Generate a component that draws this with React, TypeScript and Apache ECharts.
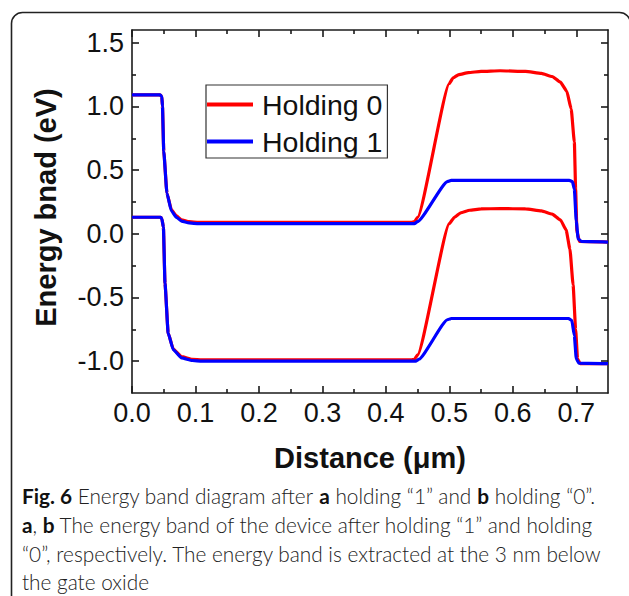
import React, { useEffect, useRef } from "react";
import * as echarts from "echarts";

const X_MIN = 0;
const X_MAX = 0.75;
const Y_MIN = -1.25;
const Y_MAX = 1.6;

const xTickValues = [0, 0.1, 0.2, 0.3, 0.4, 0.5, 0.6, 0.7];
const xMinorValues = [0.05, 0.15, 0.25, 0.35, 0.45, 0.55, 0.65];
const yTickValues = [-1, -0.5, 0, 0.5, 1, 1.5];
const yMinorValues = [-0.75, -0.25, 0.25, 0.75, 1.25];

const seriesNames = ["Holding 0", "Holding 1"];

// Holding 0 (red) – upper band
const h0UpperX = [0, 0.044, 0.047, 0.048, 0.05, 0.055, 0.062, 0.07, 0.078, 0.09, 0.105, 0.2, 0.3, 0.44, 0.445, 0.45, 0.5, 0.506, 0.515, 0.53, 0.55, 0.58, 0.62, 0.645, 0.662, 0.675, 0.685, 0.692, 0.697, 0.699, 0.701, 0.705, 0.75];
const h0UpperY = [1.09, 1.09, 1.08, 1.0, 0.65, 0.32, 0.19, 0.14, 0.11, 0.095, 0.09, 0.09, 0.09, 0.09, 0.095, 0.13, 1.18, 1.225, 1.25, 1.265, 1.275, 1.28, 1.275, 1.26, 1.235, 1.19, 1.12, 0.98, 0.72, 0.35, 0.02, -0.06, -0.065];

// Holding 0 (red) – lower band
const h0LowerX = [0, 0.045, 0.047, 0.0495, 0.052, 0.057, 0.065, 0.078, 0.095, 0.11, 0.2, 0.3, 0.44, 0.445, 0.45, 0.5, 0.508, 0.518, 0.532, 0.55, 0.58, 0.62, 0.645, 0.662, 0.675, 0.684, 0.69, 0.695, 0.699, 0.702, 0.706, 0.75];
const h0LowerY = [0.13, 0.13, 0.12, 0.05, -0.39, -0.78, -0.905, -0.965, -0.985, -0.99, -0.99, -0.99, -0.99, -0.985, -0.95, 0.08, 0.13, 0.165, 0.185, 0.195, 0.198, 0.195, 0.18, 0.155, 0.11, 0.03, -0.12, -0.4, -0.75, -0.98, -1.02, -1.02];

// Holding 1 (blue) – upper band
const h1UpperX = [0, 0.044, 0.047, 0.048, 0.05, 0.055, 0.062, 0.07, 0.078, 0.09, 0.105, 0.2, 0.3, 0.445, 0.45, 0.497, 0.503, 0.6, 0.689, 0.694, 0.697, 0.7, 0.703, 0.708, 0.75];
const h1UpperY = [1.09, 1.09, 1.08, 1.0, 0.65, 0.32, 0.18, 0.13, 0.1, 0.085, 0.08, 0.08, 0.08, 0.08, 0.095, 0.41, 0.42, 0.42, 0.42, 0.41, 0.35, 0.1, -0.04, -0.06, -0.065];

// Holding 1 (blue) – lower band
const h1LowerX = [0, 0.045, 0.047, 0.0495, 0.052, 0.057, 0.065, 0.078, 0.095, 0.11, 0.2, 0.3, 0.447, 0.452, 0.497, 0.503, 0.6, 0.688, 0.693, 0.697, 0.7, 0.704, 0.75];
const h1LowerY = [0.13, 0.13, 0.12, 0.05, -0.39, -0.78, -0.91, -0.975, -0.995, -1.0, -1.0, -1.0, -1.0, -0.985, -0.675, -0.665, -0.665, -0.665, -0.68, -0.8, -0.98, -1.015, -1.02];

const captionLines = [
  "{b|Fig. 6} Energy band diagram after {b|a} holding “1” and {b|b} holding “0”.",
  "{b|a}, {b|b} The energy band of the device after holding “1” and holding",
  "“0”, respectively. The energy band is extracted at the 3 nm below",
  "the gate oxide",
];

const RED = "#ff0000";
const BLUE = "#0000ff";
const AXIS_FONT = "Liberation Sans, Arial, sans-serif";
const CAPTION_FONT = "Lato, sans-serif";
const CAPTION_SIZE = 20.8;

function zip(xs: number[], ys: number[]) {
  return xs.map((x, i) => [x, ys[i]]);
}

function xAxisDef(position: "top" | "bottom", major: boolean, withLabels: boolean, withName: boolean) {
  return {
    type: "value",
    position,
    min: X_MIN,
    max: X_MAX,
    splitLine: { show: false },
    axisLine: { show: major, onZero: false, lineStyle: { color: "#1a1a1a", width: 1.6 } },
    axisTick: {
      show: true,
      inside: true,
      length: major ? 7 : 4,
      lineStyle: { color: "#1a1a1a", width: 1.6 },
      customValues: major ? xTickValues : xMinorValues,
    },
    axisLabel: withLabels
      ? {
          show: true,
          customValues: xTickValues,
          formatter: (v: number) => v.toFixed(1),
          fontSize: 27,
          fontFamily: AXIS_FONT,
          color: "#111",
          margin: 6,
        }
      : { show: false },
    name: withName ? "Distance (μm)" : "",
    nameLocation: "middle",
    nameGap: 50,
    nameTextStyle: { fontSize: 29, fontWeight: "bold", fontFamily: AXIS_FONT, color: "#111" },
  };
}

function yAxisDef(position: "left" | "right", major: boolean, withLabels: boolean, withName: boolean) {
  return {
    type: "value",
    position,
    min: Y_MIN,
    max: Y_MAX,
    splitLine: { show: false },
    axisLine: { show: major, onZero: false, lineStyle: { color: "#1a1a1a", width: 1.6 } },
    axisTick: {
      show: true,
      inside: true,
      length: major ? 7 : 4,
      lineStyle: { color: "#1a1a1a", width: 1.6 },
      customValues: major ? yTickValues : yMinorValues,
    },
    axisLabel: withLabels
      ? {
          show: true,
          customValues: yTickValues,
          formatter: (v: number) => v.toFixed(1),
          fontSize: 27,
          fontFamily: AXIS_FONT,
          color: "#111",
          margin: 8,
        }
      : { show: false },
    name: withName ? "Energy bnad (eV)" : "",
    nameLocation: "middle",
    nameGap: 72,
    nameTextStyle: { fontSize: 29, fontWeight: "bold", fontFamily: AXIS_FONT, color: "#111", padding: [0, 0, 0, 8] },
  };
}

function lineSeries(name: string, color: string, xs: number[], ys: number[]) {
  return {
    type: "line",
    name,
    data: zip(xs, ys),
    xAxisIndex: 0,
    yAxisIndex: 0,
    symbol: "none",
    smooth: 0.15,
    smoothMonotone: "x",
    lineStyle: { color, width: 3.2 },
    itemStyle: { color },
  };
}

export default function App() {
  const ref = useRef<HTMLDivElement>(null);

  useEffect(() => {
    document.body.style.margin = "0";
    if (!ref.current) return;
    const chart = echarts.init(ref.current, undefined, { renderer: "svg" });

    const captionGraphics = captionLines.map((line, i) => ({
      type: "text",
      left: 22,
      top: 485 + i * 28.8,
      style: {
        text: line,
        fill: "#222",
        fontSize: CAPTION_SIZE,
        fontWeight: 300,
        fontFamily: CAPTION_FONT,
        rich: { b: { fontWeight: "bold", fontSize: CAPTION_SIZE, fontFamily: CAPTION_FONT, fill: "#111" } },
      },
    }));

    chart.setOption({
      animation: false,
      backgroundColor: "#ffffff",
      grid: { left: 132, right: 21, top: 30, bottom: 203, containLabel: false },
      xAxis: [
        xAxisDef("bottom", true, true, true),
        xAxisDef("bottom", false, false, false),
        xAxisDef("top", true, false, false),
        xAxisDef("top", false, false, false),
      ],
      yAxis: [
        yAxisDef("left", true, true, true),
        yAxisDef("left", false, false, false),
        yAxisDef("right", true, false, false),
        yAxisDef("right", false, false, false),
      ],
      legend: {
        data: seriesNames,
        orient: "vertical",
        left: 206,
        top: 85,
        padding: [5, 5, 2, 1],
        itemGap: 8,
        itemWidth: 46,
        itemHeight: 4,
        icon: "rect",
        borderColor: "#333",
        borderWidth: 1.2,
        borderRadius: 0,
        textStyle: { fontSize: 28.5, fontFamily: AXIS_FONT, color: "#111", padding: [0, 0, 0, 4] },
      },
      series: [
        lineSeries(seriesNames[0], RED, h0UpperX, h0UpperY),
        lineSeries(seriesNames[0], RED, h0LowerX, h0LowerY),
        lineSeries(seriesNames[1], BLUE, h1UpperX, h1UpperY),
        lineSeries(seriesNames[1], BLUE, h1LowerX, h1LowerY),
      ],
      graphic: [
        {
          type: "rect",
          left: 9,
          top: 10,
          shape: { x: 0, y: 0, width: 619, height: 600, r: 11 },
          style: { fill: "none", stroke: "#222", lineWidth: 1.6 },
          silent: true,
          z: -1,
        },
        ...captionGraphics,
      ],
    });

    return () => chart.dispose();
  }, []);

  return <div ref={ref} style={{ width: 629, height: 596 }} />;
}
